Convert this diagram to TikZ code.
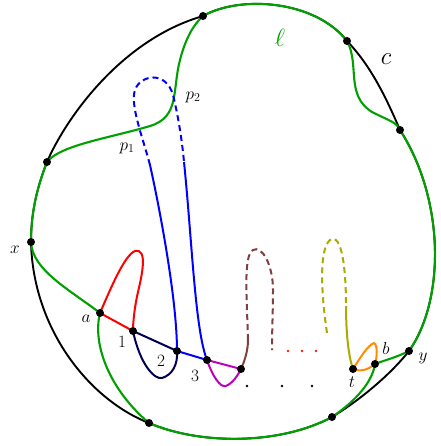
\documentclass[tikz,border=0pt]{standalone}
\definecolor{lgreen}{RGB}{0,160,0}
\definecolor{dbrown}{RGB}{128,64,64}
\definecolor{olivey}{RGB}{170,170,0}
\definecolor{orng}{RGB}{255,140,0}
\definecolor{mag}{RGB}{190,0,190}
\definecolor{navyb}{RGB}{0,0,80}
\begin{document}
\begin{tikzpicture}[x=1pt,y=-1pt,
  cline/.style={black,line width=1.9pt},
  lline/.style={lgreen,line width=2.1pt},
  loopl/.style={line width=2pt},
  dashl/.style={line width=2pt,dash pattern=on 6pt off 4pt},
  vdot/.style={circle,fill=black,inner sep=0pt,minimum size=8pt},
  sdot/.style={circle,inner sep=0pt,minimum size=2.6pt},
  lab/.style={font=\fontsize{18}{21}\selectfont},
  biglab/.style={font=\fontsize{25}{29}\selectfont}]
\useasboundingbox (0,0) rectangle (440,446);
% key points
\coordinate (T1) at (203,16);
\coordinate (TR) at (347,41);
\coordinate (R) at (400,130);
\coordinate (LU) at (47,162);
\coordinate (X) at (31,242);
\coordinate (A) at (100,313);
\coordinate (N1) at (133,331);
\coordinate (N2) at (177,351);
\coordinate (N3) at (207,360);
\coordinate (NB) at (241,369);
\coordinate (T) at (353,369);
\coordinate (B) at (375,364);
\coordinate (Y) at (409,351);
\coordinate (B1) at (149,423);
\coordinate (B2) at (332,417);
% curve c
\draw[cline] (T1) .. controls (120,40) and (65,120) .. (LU)
  .. controls (36,190) and (31,215) .. (X)
  .. controls (33,330) and (90,400) .. (B1)
  .. controls (200,445) and (280,445) .. (B2)
  .. controls (360,400) and (390,375) .. (Y)
  .. controls (445,300) and (445,200) .. (R)
  .. controls (385,95) and (370,65) .. (TR)
  .. controls (315,0) and (240,-5) .. (T1);
% curve l
\draw[lline] (T1) .. controls (240,-5) and (315,0) .. (TR)
  .. controls (360,65) and (345,95) .. (372,112)
  .. controls (392,122) and (396,122) .. (R)
  .. controls (445,200) and (445,300) .. (Y)
  .. controls (395,358) and (385,360) .. (B)
  .. controls (372,385) and (350,405) .. (B2)
  .. controls (280,445) and (200,445) .. (B1)
  .. controls (110,390) and (92,345) .. (A)
  .. controls (70,290) and (32,270) .. (X)
  .. controls (31,215) and (36,190) .. (LU)
  .. controls (60,145) and (110,138) .. (150,126)
  .. controls (180,117) and (172,90) .. (180,60)
  .. controls (185,40) and (193,25) .. (T1);
% blue loop
\coordinate (bl1) at (150,165);
\coordinate (bl2) at (184,162);
\draw[loopl,blue] (N2) .. controls (177,300) and (160,210) .. (bl1);
\draw[dashl,blue] (bl1) .. controls (142,135) and (130,105) .. (135,90)
  .. controls (140,75) and (166,70) .. (173,95)
  .. controls (178,115) and (182,140) .. (bl2);
\draw[loopl,blue] (bl2) .. controls (192,240) and (195,330) .. (N3);
\draw[loopl,blue] (N2) -- (N3);
% navy
\draw[loopl,navyb] (N1) -- (N2);
\draw[loopl,navyb] (N1) .. controls (140,365) and (155,380) .. (162,378)
  .. controls (172,375) and (178,365) .. (N2);
% red
\draw[loopl,red] (A) -- (N1);
\draw[loopl,red] (A) .. controls (112,285) and (125,255) .. (135,251)
  .. controls (148,248) and (142,275) .. (138,292)
  .. controls (135,305) and (133,320) .. (N1);
% magenta
\draw[loopl,mag] (N3) -- (NB);
\draw[loopl,mag] (N3) .. controls (212,375) and (220,388) .. (226,386)
  .. controls (233,383) and (238,375) .. (NB);
% brown
\coordinate (br1) at (248,340);
\coordinate (br2) at (272,350);
\draw[loopl,dbrown] (NB) .. controls (245,360) and (248,350) .. (br1);
\draw[dashl,dbrown] (br1) .. controls (247,300) and (243,255) .. (253,250)
  .. controls (262,245) and (273,265) .. (273,290)
  .. controls (273,310) and (272,330) .. (br2);
% olive
\coordinate (ol1) at (327,333);
\coordinate (ol2) at (346,306);
\draw[dashl,olivey] (ol1) .. controls (322,300) and (318,250) .. (330,240)
  .. controls (342,232) and (346,270) .. (ol2);
\draw[loopl,olivey] (ol2) .. controls (346,330) and (348,355) .. (T);
% orange
\draw[loopl,orng] (T) .. controls (360,372) and (368,370) .. (B);
\draw[loopl,orng] (T) .. controls (360,358) and (368,345) .. (374,343)
  .. controls (378,345) and (377,358) .. (B);
% small dots
\node[sdot,fill=red!80!orange] (r1) at (288,351) {};
\node[sdot,fill=red!80!orange] (r2) at (302,351) {};
\node[sdot,fill=red!80!orange] (r3) at (316,351) {};
\node[sdot,fill=black] (k1) at (247,386) {};
\node[sdot,fill=black] (k2) at (282,386) {};
\node[sdot,fill=black] (k3) at (312,386) {};
% vertices
\foreach \p in {T1,TR,R,LU,X,A,N1,N2,N3,NB,T,B,Y,B1,B2}
  \node[vdot] (v\p) at (\p) {};
% labels
\node[lab] (la) at (86,319) {$a$};
\node[lab] (l1) at (122,342) {$1$};
\node[lab] (l2) at (161,361) {$2$};
\node[lab] (l3) at (195,376) {$3$};
\node[lab] (lt) at (352,382) {$t$};
\node[lab] (lb) at (386,348) {$b$};
\node[lab] (ly) at (423,358) {$y$};
\node[lab] (lx) at (15,250) {$x$};
\node[lab] (lp1) at (127,148) {$p_1$};
\node[lab] (lp2) at (193,97) {$p_2$};
\node[biglab,lgreen] (lell) at (280,38) {$\ell$};
\node[biglab] (lc) at (386,59) {$c$};
\end{tikzpicture}
\end{document}
